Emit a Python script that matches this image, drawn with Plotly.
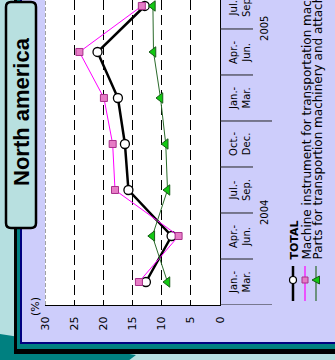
import plotly.graph_objects as go

# ---- data -------------------------------------------------------------
quarters = ["Jan.-<br>Mar.", "Apr.-<br>Jun.", "Jul.-<br>Sep.", "Oct.-<br>Dec.",
            "Jan.-<br>Mar.", "Apr.-<br>Jun.", "Jul.-<br>Sep."]
years = ["2004", "2005"]
year_first_quarter = [0, 4]
total = [12.7, 8.3, 15.7, 16.3, 17.5, 21.0, 12.9]
machine = [13.9, 7.1, 18.0, 18.4, 19.9, 24.1, 13.4]
parts = [9.0, 11.6, 9.0, 9.3, 10.2, 11.4, 11.5]
value_ticks = [0, 5, 10, 15, 20, 25, 30]
series_names = ["TOTAL",
                "Machine instrument for transportation machinery",
                "Parts for transportion machinery and attachments"]
region = "North america"
unit = "(%)"

# ---- geometry helpers (pixel -> paper) -------------------------------
W, H = 335, 360
ML, MR, MT, MB = 45, 115, 0, 55
PW = W - ML - MR
PH = H - MT - MB


def px(x):
    return (x - ML) / PW


def py(y):
    return (H - MB - y) / PH


idx = list(range(len(quarters)))
FONT = "DejaVu Sans"

fig = go.Figure()

fig.add_trace(go.Scatter(
    x=total, y=idx, mode="lines+markers", name=series_names[0],
    line=dict(color="black", width=2.5),
    marker=dict(symbol="circle", size=9, color="white",
                line=dict(color="black", width=1.3)),
    cliponaxis=False))
fig.add_trace(go.Scatter(
    x=machine, y=idx, mode="lines+markers", name=series_names[1],
    line=dict(color="#ff00ff", width=1),
    marker=dict(symbol="square", size=7, color="#e67cc6",
                line=dict(color="#a8308a", width=1)),
    cliponaxis=False))
fig.add_trace(go.Scatter(
    x=parts, y=idx, mode="lines+markers", name=series_names[2],
    line=dict(color="#2a6a2a", width=1),
    marker=dict(symbol="triangle-left", size=9, color="#12c812",
                line=dict(color="#1a5a1a", width=1)),
    cliponaxis=False))

shapes = []


def rect(x0, y0, x1, y1, fill, layer="below"):
    shapes.append(dict(type="rect", xref="paper", yref="paper",
                       x0=px(x0), x1=px(x1), y0=py(y1), y1=py(y0),
                       fillcolor=fill, line=dict(width=0), layer=layer))


# decorative corner
shapes.append(dict(type="path", xref="paper", yref="paper", layer="below",
                   path=f"M {px(0)},{py(334)} L {px(136)},{py(355)} "
                        f"L {px(128)},{py(361)} L {px(0)},{py(361)} Z",
                   fillcolor="#008080", line=dict(width=0)))
# framed panel
rect(14, -20, 420, 354, "black")
rect(17, -20, 420, 349, "#008080")
rect(20, -20, 420, 344, "#000080")
rect(22, -20, 420, 342, "#cdcdfb")
rect(45, -20, 220, 305, "white")

# rounded region box
bx0, bx1, by0, by1, r = 6, 36, 2, 228, 5
box_path = (f"M {px(bx0 + r)},{py(by0)} L {px(bx1 - r)},{py(by0)} "
            f"Q {px(bx1)},{py(by0)} {px(bx1)},{py(by0 + r)} "
            f"L {px(bx1)},{py(by1 - r)} Q {px(bx1)},{py(by1)} {px(bx1 - r)},{py(by1)} "
            f"L {px(bx0 + r)},{py(by1)} Q {px(bx0)},{py(by1)} {px(bx0)},{py(by1 - r)} "
            f"L {px(bx0)},{py(by0 + r)} Q {px(bx0)},{py(by0)} {px(bx0 + r)},{py(by0)} Z")
shapes.append(dict(type="path", xref="paper", yref="paper", layer="below",
                   path=box_path, fillcolor="#b8e0e0",
                   line=dict(color="black", width=2.5)))

# dashed outer gridline at 30
shapes.append(dict(type="line", xref="x", yref="paper", x0=30, x1=30, y0=0, y1=1,
                   line=dict(color="#444444", width=1, dash="4px,2px")))

# category dividers
for i in range(len(quarters) + 1):
    yb = i - 0.5
    long_line = i in year_first_quarter
    shapes.append(dict(type="line", xref="paper", yref="y",
                       x0=px(220), x1=px(272 if long_line else 253), y0=yb, y1=yb,
                       line=dict(color="#222222", width=1)))

# legend keys
leg_x = [293, 305, 316]
leg_line = [dict(color="black", width=2.5), dict(color="#ff00ff", width=1.2),
            dict(color="#2a6a2a", width=1.2)]
for xk, ln in zip(leg_x, leg_line):
    shapes.append(dict(type="line", xref="paper", yref="paper",
                       x0=px(xk), x1=px(xk), y0=py(301), y1=py(266), line=ln))
mk_y = 280
shapes.append(dict(type="circle", xref="paper", yref="paper",
                   x0=px(leg_x[0] - 3.5), x1=px(leg_x[0] + 3.5),
                   y0=py(mk_y + 3.5), y1=py(mk_y - 3.5),
                   fillcolor="white", line=dict(color="black", width=1.2)))
shapes.append(dict(type="rect", xref="paper", yref="paper",
                   x0=px(leg_x[1] - 3), x1=px(leg_x[1] + 3),
                   y0=py(mk_y + 3), y1=py(mk_y - 3),
                   fillcolor="#e67cc6", line=dict(color="#a8308a", width=1)))
tx = leg_x[2]
shapes.append(dict(type="path", xref="paper", yref="paper",
                   path=f"M {px(tx - 4)},{py(mk_y)} L {px(tx + 3.5)},{py(mk_y - 4)} "
                        f"L {px(tx + 3.5)},{py(mk_y + 4)} Z",
                   fillcolor="#12c812", line=dict(color="#1a5a1a", width=1)))

annotations = []


def label(x, y, text, size, family=FONT, yref="paper", yanchor="middle"):
    annotations.append(dict(xref="paper", yref=yref, x=x, y=y, text=text,
                            xanchor="center", yanchor=yanchor, textangle=-90,
                            showarrow=False,
                            font=dict(family=family, size=size, color="black")))


# region title
label(px(21), py(112), f"<b>{region}</b>", 22, family="Liberation Sans")
# unit label
label(px(35), py(307), unit, 11)
# quarter labels
for i, q in enumerate(quarters):
    label(px(240), i, q, 10, yref="y")
# year labels
for yr, first in zip(years, year_first_quarter):
    label(px(265), first + 1.5, yr, 10, yref="y")
# legend texts
for k, (xk, name) in enumerate(zip(leg_x, series_names)):
    txt = f"<b>{name}</b>" if k == 0 else name
    label(px(xk + 1), py(262), txt, 12 if k else 11, yanchor="bottom")

fig.update_layout(
    width=W, height=H,
    margin=dict(l=ML, r=MR, t=MT, b=MB, pad=0),
    paper_bgcolor="#b5dfe0",
    plot_bgcolor="white",
    showlegend=False,
    shapes=shapes,
    annotations=annotations,
    xaxis=dict(range=[30, 0], tickvals=value_ticks, ticktext=[str(v) for v in value_ticks],
               tickangle=-90, ticks="", ticklabelstandoff=6,
               tickfont=dict(family=FONT, size=11, color="black"),
               showgrid=True, gridcolor="black", gridwidth=1, griddash="10px,5px",
               zeroline=False, showline=True, linecolor="black", linewidth=1.2,
               fixedrange=True),
    yaxis=dict(range=[-0.5, 6.13], side="right", showticklabels=False, ticks="",
               showgrid=False, zeroline=False, showline=True, linecolor="black",
               linewidth=1.2, fixedrange=True),
)

fig.write_html("out.html")
